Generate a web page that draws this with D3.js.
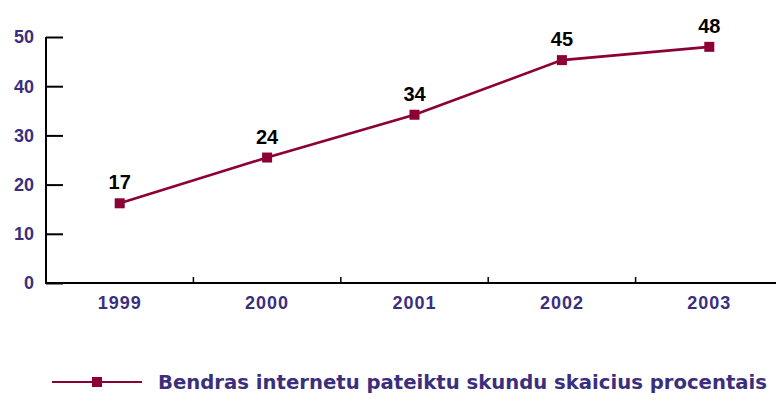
<!DOCTYPE html>
<html>
<head>
<meta charset="utf-8">
<script src="https://cdn.jsdelivr.net/npm/d3@7"></script>
<style>
  body { margin: 0; background: #fff; }
  svg { display: block; }
</style>
</head>
<body>
<div id="chart"></div>
<script>
// data
const years = ["1999", "2000", "2001", "2002", "2003"];
const values = [16.2, 25.5, 34.2, 45.3, 48.0];   // plotted positions
const valueLabels = ["17", "24", "34", "45", "48"]; // printed labels
const yTicks = [0, 10, 20, 30, 40, 50];
const seriesName = "Bendras internetu pateiktu skundu skaicius procentais";

const W = 776, H = 401;
const lineColor = "#8c0036";
const textColor = "#3b2f7d";

const svg = d3.select("#chart").append("svg")
  .attr("width", W).attr("height", H);

const x = d3.scaleBand().domain(years).range([46, 783]).padding(0);
const y = d3.scaleLinear().domain([0, 50]).range([283, 37]);

// y axis
const yAxis = svg.append("g")
  .attr("transform", "translate(46,0)")
  .call(d3.axisRight(y).tickValues(yTicks).tickSize(17).tickFormat(""));
yAxis.select(".domain").remove();
yAxis.selectAll(".tick line").attr("stroke", "#000").attr("stroke-width", 2);
svg.append("line")
  .attr("x1", 46).attr("x2", 46).attr("y1", y(50)).attr("y2", y(0) + 1)
  .attr("stroke", "#000").attr("stroke-width", 2);

svg.append("g").selectAll("text")
  .data(yTicks).join("text")
  .attr("x", 34).attr("y", d => y(d))
  .attr("dy", "0.36em")
  .attr("text-anchor", "end")
  .attr("fill", textColor)
  .style("font", "bold 18px 'Liberation Sans', Arial, sans-serif")
  .text(d => d);

// x axis, ticks between categories pointing up
svg.append("line")
  .attr("x1", 45).attr("x2", 783).attr("y1", y(0)).attr("y2", y(0))
  .attr("stroke", "#000").attr("stroke-width", 1.8);
svg.append("g").selectAll("line")
  .data(years.slice(1)).join("line")
  .attr("x1", d => x(d)).attr("x2", d => x(d))
  .attr("y1", y(0)).attr("y2", y(0) - 6)
  .attr("stroke", "#000").attr("stroke-width", 1.5);

svg.append("g").selectAll("text")
  .data(years).join("text")
  .attr("x", d => x(d) + x.bandwidth() / 2)
  .attr("y", 309)
  .attr("text-anchor", "middle")
  .attr("fill", textColor)
  .attr("letter-spacing", "1px")
  .style("font", "bold 18px 'Liberation Sans', Arial, sans-serif")
  .text(d => d);

// series line
const cx = (d, i) => x(years[i]) + x.bandwidth() / 2;
const line = d3.line().x((d, i) => cx(d, i)).y(d => y(d));
svg.append("path")
  .datum(values)
  .attr("d", line)
  .attr("fill", "none")
  .attr("stroke", lineColor)
  .attr("stroke-width", 2.6);

svg.append("g").selectAll("rect")
  .data(values).join("rect")
  .attr("x", (d, i) => cx(d, i) - 5)
  .attr("y", d => y(d) - 5)
  .attr("width", 10).attr("height", 10)
  .attr("fill", lineColor);

svg.append("g").selectAll("text")
  .data(values).join("text")
  .attr("x", (d, i) => cx(d, i))
  .attr("y", d => y(d) - 14)
  .attr("text-anchor", "middle")
  .attr("fill", "#000")
  .style("font", "bold 20px 'Liberation Sans Narrow', 'Liberation Sans', Arial, sans-serif")
  .text((d, i) => valueLabels[i]);

// legend
const lg = svg.append("g").attr("transform", "translate(0,382)");
lg.append("line")
  .attr("x1", 52).attr("x2", 142).attr("y1", 0).attr("y2", 0)
  .attr("stroke", lineColor).attr("stroke-width", 2);
lg.append("rect")
  .attr("x", 92).attr("y", -5).attr("width", 10).attr("height", 10)
  .attr("fill", lineColor);
lg.append("text")
  .attr("x", 158).attr("y", 0).attr("dy", "0.36em")
  .attr("fill", textColor)
  .attr("textLength", 609).attr("lengthAdjust", "spacingAndGlyphs")
  .style("font", "bold 20px 'DejaVu Sans Condensed', 'DejaVu Sans', sans-serif")
  .text(seriesName);
</script>
</body>
</html>
